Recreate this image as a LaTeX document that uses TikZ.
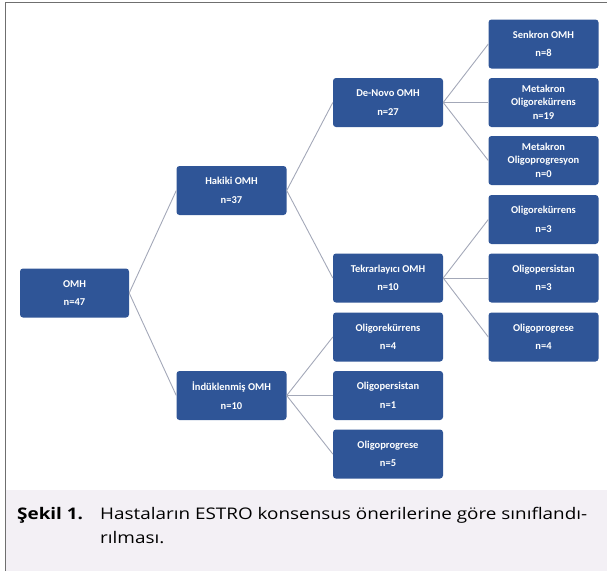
\documentclass[tikz,border=0pt]{standalone}
\usepackage{fontspec}
\setmainfont{Open Sans}
\newfontfamily\kutufont{Carlito}
\newfontfamily\capfont[FakeStretch=1.18]{Open Sans}
\usetikzlibrary{positioning}
\definecolor{omhblue}{HTML}{2F5597}
\definecolor{linkgray}{HTML}{A3A8B8}
\definecolor{capbg}{HTML}{F3F0F5}
\definecolor{framegray}{HTML}{6F6F6F}
\tikzset{
  kutu/.style={rectangle, rounded corners=3pt, fill=omhblue, text=white,
    minimum width=110pt, minimum height=49pt, inner sep=0pt, align=center,
    font=\kutufont\bfseries\fontsize{10.5}{12.5}\selectfont},
  baglanti/.style={draw=linkgray, line width=0.9pt},
  yazi/.style={anchor=base west, inner sep=0pt, font=\capfont\fontsize{16}{19}\selectfont}
}
\begin{document}
\begin{tikzpicture}[x=1pt, y=-1pt]
  \useasboundingbox (0,0) rectangle (607,571);
  \fill[capbg] (6,490) rectangle (607,571);
  \draw[framegray, line width=1pt] (5.5,571) -- (5.5,2.7) -- (607,2.7);

  % levels of the tree
  \node[kutu, minimum width=109pt] (omh) at (74.5,293) {OMH\\[6pt]n=47};
  \node[kutu] (hakiki) at (231.5,190.5) {Hakiki OMH\\[6pt]n=37};
  \node[kutu] (induk) at (231.5,395.5) {İndüklenmiş OMH\\[6pt]n=10};
  \node[kutu] (denovo) at (388,102.5) {De-Novo OMH\\[6pt]n=27};
  \node[kutu] (tekrar) at (388,278) {Tekrarlayıcı OMH\\[6pt]n=10};
  \node[kutu] (irek) at (388,337) {Oligorekürrens\\[6pt]n=4};
  \node[kutu] (ipers) at (388,395.5) {Oligopersistan\\[6pt]n=1};
  \node[kutu] (iprog) at (388,454) {Oligoprogrese\\[6pt]n=5};
  \node[kutu] (senkron) at (543.5,44) {Senkron OMH\\[6pt]n=8};
  \node[kutu] (metarek) at (543.5,102.5) {Metakron\\Oligorekürrens\\[2pt]n=19};
  \node[kutu] (metaprog) at (543.5,160.5) {Metakron\\Oligoprogresyon\\[2pt]n=0};
  \node[kutu] (trek) at (543.5,219.5) {Oligorekürrens\\[6pt]n=3};
  \node[kutu] (tpers) at (543.5,278) {Oligopersistan\\[6pt]n=3};
  \node[kutu] (tprog) at (543.5,337) {Oligoprogrese\\[6pt]n=4};

  \draw[baglanti] (omh.east) -- (hakiki.west);
  \draw[baglanti] (omh.east) -- (induk.west);
  \draw[baglanti] (hakiki.east) -- (denovo.west);
  \draw[baglanti] (hakiki.east) -- (tekrar.west);
  \draw[baglanti] (induk.east) -- (irek.west);
  \draw[baglanti] (induk.east) -- (ipers.west);
  \draw[baglanti] (induk.east) -- (iprog.west);
  \draw[baglanti] (denovo.east) -- (senkron.west);
  \draw[baglanti] (denovo.east) -- (metarek.west);
  \draw[baglanti] (denovo.east) -- (metaprog.west);
  \draw[baglanti] (tekrar.east) -- (trek.west);
  \draw[baglanti] (tekrar.east) -- (tpers.west);
  \draw[baglanti] (tekrar.east) -- (tprog.west);

  % caption
  \node[yazi, font=\capfont\fontsize{16}{19}\selectfont\bfseries] (sekil) at (17,519) {Şekil 1.};
  \node[yazi] (satir1) at (100,519) {Hastaların ESTRO konsensus önerilerine göre sınıflandı-};
  \node[yazi] (satir2) at (100,543) {rılması.};
\end{tikzpicture}
\end{document}
